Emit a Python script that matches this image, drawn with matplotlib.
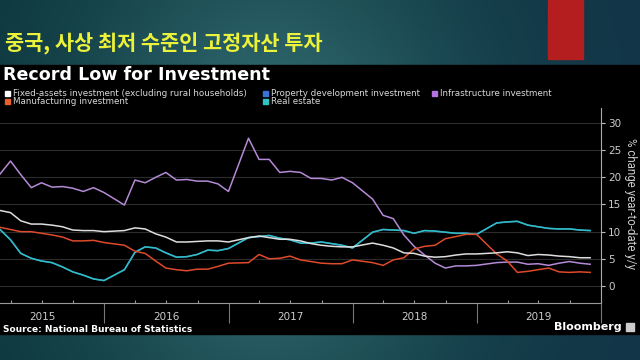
import matplotlib.pyplot as plt
import matplotlib.dates as mdates
import matplotlib.transforms as mtransforms
from matplotlib.patches import Rectangle
import numpy as np
import pandas as pd

# month-end dates (China reports Jan-Feb together, so no January point)
years = [2015, 2016, 2017, 2018, 2019]
months = []
for y in years:
    last = 11 if y == 2019 else 12
    for m in range(2, last + 1):
        months.append(pd.Timestamp(year=y, month=m, day=1) + pd.offsets.MonthEnd(0))

fixed_assets = [
    13.9, 13.5, 12.0, 11.4, 11.4, 11.2, 10.9, 10.3, 10.2, 10.2, 10.0,
    10.2, 10.7, 10.5, 9.6, 9.0, 8.1, 8.1, 8.2, 8.3, 8.3, 8.1,
    8.9, 9.2, 8.9, 8.6, 8.6, 8.3, 7.8, 7.5, 7.3, 7.2, 7.2,
    7.9, 7.5, 7.0, 6.1, 6.0, 5.5, 5.3, 5.4, 5.7, 5.9, 5.9,
    6.1, 6.3, 6.1, 5.6, 5.8, 5.7, 5.5, 5.4, 5.2, 5.2,
]
manufacturing = [
    10.8, 10.4, 10.0, 10.0, 9.7, 9.4, 9.0, 8.3, 8.3, 8.4, 8.0,
    7.5, 6.4, 6.0, 4.6, 3.3, 3.0, 2.8, 3.1, 3.1, 3.6, 4.2,
    4.3, 5.8, 5.0, 5.1, 5.5, 4.8, 4.5, 4.2, 4.1, 4.1, 4.8,
    4.3, 3.8, 4.8, 5.2, 6.8, 7.3, 7.5, 8.7, 9.1, 9.5, 9.5,
    5.9, 4.6, 2.5, 2.7, 3.0, 3.3, 2.6, 2.5, 2.6, 2.5,
]
property_dev = [
    10.4, 8.5, 6.0, 5.1, 4.6, 4.3, 3.5, 2.6, 2.0, 1.3, 1.0,
    3.0, 6.2, 7.2, 7.0, 6.1, 5.3, 5.4, 5.8, 6.6, 6.5, 6.9,
    8.9, 9.1, 9.3, 8.8, 8.5, 7.9, 7.9, 8.1, 7.8, 7.5, 7.0,
    9.9, 10.4, 10.3, 10.2, 9.7, 10.2, 10.1, 9.9, 9.7, 9.7, 9.5,
    11.6, 11.8, 11.9, 11.2, 10.9, 10.6, 10.5, 10.5, 10.3, 10.2,
]
infrastructure = [
    20.6, 23.0, 20.5, 18.1, 19.0, 18.2, 18.3, 18.0, 17.4, 18.1, 17.2,
    14.9, 19.5, 19.0, 20.0, 20.9, 19.5, 19.6, 19.3, 19.3, 18.8, 17.4,
    27.2, 23.3, 23.3, 20.9, 21.1, 20.9, 19.8, 19.8, 19.5, 20.0, 19.0,
    16.0, 13.0, 12.4, 9.4, 7.3, 5.7, 4.2, 3.3, 3.7, 3.7, 3.8,
    4.3, 4.4, 4.4, 4.0, 4.1, 3.8, 4.2, 4.5, 4.2, 4.0,
]
real_estate = [
    10.4, 8.5, 6.0, 5.1, 4.6, 4.3, 3.5, 2.6, 2.0, 1.3, 1.0,
    3.0, 6.2, 7.2, 7.0, 6.1, 5.3, 5.4, 5.8, 6.6, 6.5, 6.9,
    8.9, 9.1, 9.3, 8.8, 8.5, 7.9, 7.9, 8.1, 7.8, 7.5, 7.0,
    9.9, 10.4, 10.3, 10.2, 9.7, 10.2, 10.1, 9.9, 9.7, 9.7, 9.5,
    11.6, 11.8, 11.9, 11.2, 10.9, 10.6, 10.5, 10.5, 10.3, 10.2,
]

y_ticks = [0, 5, 10, 15, 20, 25, 30]
year_labels = ["2015", "2016", "2017", "2018", "2019"]

W, H = 640, 360
fig = plt.figure(figsize=(6.4, 3.6), dpi=100)


def fx(px):
    return px / W


def fy(py):
    return 1 - py / H


# slide background: teal gradient
bg = fig.add_axes([0, 0, 1, 1], zorder=-10)
bg.axis("off")
xs = np.linspace(0, 1, 320)
ys = np.linspace(0, 1, 180)
X, Y = np.meshgrid(xs, ys)
glow = np.exp(-((X - 0.42) ** 2) / 0.09 - ((Y - 0.5) ** 2) / 0.5)
c_dark = np.array([0.05, 0.21, 0.24])
c_light = np.array([0.19, 0.42, 0.44])
c_right = np.array([0.07, 0.21, 0.28])
mix = np.clip((X - 0.55) / 0.45, 0, 1)[..., None]
base = c_dark * (1 - mix) + c_right * mix
img = base + (c_light - c_dark) * glow[..., None]
bg.imshow(np.clip(img, 0, 1), extent=[0, 1, 0, 1], aspect="auto")
bg.set_xlim(0, 1)
bg.set_ylim(0, 1)

# red block top right and black chart panel
fig.patches.append(Rectangle((fx(548), fy(59)), fx(35), 59 / H,
                             transform=fig.transFigure, color="#b41e1e", zorder=-5))
fig.patches.append(Rectangle((0, fy(334)), 1, (334 - 65) / H,
                             transform=fig.transFigure, color="black", zorder=-5))

fig.text(fx(5), fy(44), "중국, 사상 최저 수준인 고정자산 투자",
         color="#ecf23a", fontsize=15, fontweight="bold",
         family=["Noto Sans CJK KR", "DejaVu Sans"], va="center", ha="left")

fig.text(fx(3), fy(75.5), "Record Low for Investment", color="white",
         fontsize=12.6, fontweight="bold", va="center", ha="left")

# legend
legend_items = [
    ("Fixed-assets investment (excluding rural households)", "#ffffff", 5, 93),
    ("Property development investment", "#3a72d8", 263, 93),
    ("Infrastructure investment", "#b273e0", 432, 93),
    ("Manufacturing investment", "#e8602c", 5, 101),
    ("Real estate", "#2ec4c4", 263, 101),
]
for label, col, lx, ly in legend_items:
    fig.patches.append(Rectangle((fx(lx), fy(ly + 2.5)), fx(5), 5 / H,
                                 transform=fig.transFigure, color=col))
    fig.text(fx(lx + 8), fy(ly), label, color="#d8d8d8", fontsize=6.3,
             va="center", ha="left")

ax = fig.add_axes([0, fy(303), fx(601), (303 - 108) / H])
ax.set_facecolor("black")

ax.plot(months, property_dev, color="#3a72d8", lw=1.1)
ax.plot(months, real_estate, color="#2fbfbf", lw=1.1)
ax.plot(months, infrastructure, color="#b58ad6", lw=1.1)
ax.plot(months, manufacturing, color="#de4a2a", lw=1.1)
ax.plot(months, fixed_assets, color="#dedede", lw=1.1)

ax.set_ylim(-3.13, 32.76)
ax.set_xlim(pd.Timestamp("2015-02-28"), pd.Timestamp("2020-01-01"))

ax.yaxis.tick_right()
ax.set_yticks(y_ticks)
ax.set_yticklabels([str(t) for t in y_ticks])
ax.tick_params(axis="y", colors="#bbbbbb", labelcolor="#cccccc",
               labelsize=7.5, length=3, width=0.8, pad=2)
ax.grid(axis="y", color="#2c2c2c", lw=0.8)
ax.set_axisbelow(True)

ax.xaxis.set_major_locator(mdates.YearLocator())
ax.xaxis.set_minor_locator(mdates.MonthLocator(bymonth=[4, 7, 10]))
ax.tick_params(axis="x", which="major", direction="out", length=14.5,
               width=0.8, color="#777777", labelbottom=False)
ax.tick_params(axis="x", which="minor", direction="in", length=2,
               width=0.8, color="#999999")

for s in ["top", "left"]:
    ax.spines[s].set_visible(False)
ax.spines["right"].set_color("#aaaaaa")
ax.spines["bottom"].set_color("#999999")
ax.spines["right"].set_linewidth(0.8)
ax.spines["bottom"].set_linewidth(0.8)

year_tf = mtransforms.blended_transform_factory(ax.transData, fig.transFigure)
for yr, lab in zip(years, year_labels):
    ax.text(pd.Timestamp(f"{yr}-07-02"), fy(317), lab, color="#cccccc",
            fontsize=7.5, ha="center", va="center", transform=year_tf,
            clip_on=False)

fig.text(fx(631), fy(204), "% change year-to-date y/y", rotation=270,
         color="#cccccc", fontsize=8.3, family="Roboto",
         ha="center", va="center")

fig.text(fx(3), fy(329), "Source: National Bureau of Statistics",
         color="white", fontsize=6.5, fontweight="bold", ha="left", va="center")
fig.text(fx(622), fy(327), "Bloomberg", color="white", fontsize=8,
         fontweight="bold", ha="right", va="center")
fig.patches.append(Rectangle((fx(626), fy(331)), fx(8), 8 / H,
                             transform=fig.transFigure, color="#cccccc"))

fig.savefig("out.png", dpi=100, facecolor="black")
